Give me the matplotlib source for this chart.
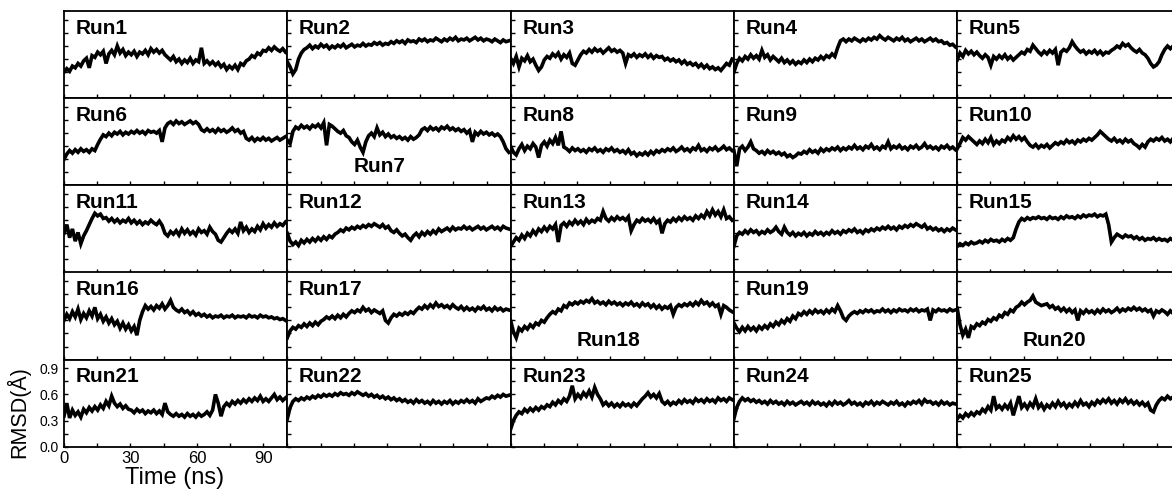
import numpy as np
import matplotlib
matplotlib.use("Agg")
import matplotlib.pyplot as plt
from matplotlib.ticker import MultipleLocator

# RMSD traces (Å), sampled evenly over 0-100 ns
run1 = [0.30,0.34,0.31,0.37,0.35,0.40,0.37,0.43, 0.46,0.35,0.49,0.47,0.53,0.50,0.54,0.40,
        0.51,0.55,0.50,0.60,0.52,0.56,0.49,0.53, 0.50,0.54,0.48,0.53,0.51,0.55,0.50,0.57,
        0.53,0.56,0.52,0.55,0.50,0.47,0.44,0.48, 0.42,0.45,0.40,0.44,0.41,0.46,0.40,0.44,
        0.42,0.58,0.40,0.43,0.39,0.42,0.38,0.41, 0.36,0.39,0.33,0.37,0.34,0.38,0.33,0.40,
        0.38,0.43,0.45,0.49,0.47,0.52,0.50,0.55, 0.54,0.58,0.55,0.59,0.56,0.54,0.57,0.53]
run2 = [0.42,0.36,0.28,0.33,0.45,0.52,0.56,0.58, 0.61,0.57,0.60,0.58,0.62,0.59,0.61,0.57,
        0.60,0.58,0.61,0.59,0.62,0.58,0.60,0.62, 0.59,0.61,0.60,0.63,0.60,0.62,0.61,0.64,
        0.62,0.64,0.61,0.63,0.62,0.65,0.63,0.66, 0.64,0.66,0.63,0.67,0.65,0.66,0.64,0.68,
        0.66,0.68,0.65,0.67,0.66,0.69,0.67,0.65, 0.68,0.66,0.69,0.67,0.70,0.66,0.68,0.67,
        0.69,0.66,0.68,0.70,0.67,0.69,0.66,0.68, 0.67,0.65,0.68,0.66,0.64,0.67,0.65,0.66]
run3 = [0.46,0.40,0.48,0.36,0.46,0.43,0.49,0.42, 0.45,0.38,0.32,0.36,0.44,0.48,0.46,0.51,
        0.48,0.52,0.45,0.50,0.47,0.52,0.40,0.38, 0.44,0.50,0.54,0.52,0.56,0.53,0.57,0.54,
        0.56,0.52,0.55,0.58,0.54,0.56,0.53,0.55, 0.52,0.40,0.50,0.48,0.51,0.47,0.50,0.48,
        0.51,0.47,0.50,0.46,0.49,0.47,0.48,0.44, 0.46,0.43,0.45,0.42,0.44,0.40,0.43,0.39,
        0.41,0.38,0.40,0.36,0.39,0.35,0.38,0.34, 0.36,0.33,0.35,0.32,0.36,0.40,0.38,0.45]
run4 = [0.30,0.40,0.46,0.43,0.48,0.45,0.50,0.46, 0.49,0.45,0.55,0.47,0.50,0.44,0.48,0.45,
        0.42,0.46,0.41,0.44,0.40,0.43,0.39,0.42, 0.40,0.44,0.41,0.45,0.42,0.46,0.44,0.48,
        0.45,0.49,0.47,0.51,0.48,0.58,0.66,0.68, 0.65,0.68,0.66,0.69,0.67,0.65,0.68,0.66,
        0.69,0.67,0.70,0.68,0.72,0.69,0.67,0.70, 0.68,0.66,0.69,0.67,0.70,0.66,0.68,0.65,
        0.67,0.69,0.66,0.68,0.65,0.67,0.69,0.66, 0.68,0.65,0.66,0.63,0.64,0.61,0.62,0.59]
run5 = [0.44,0.52,0.48,0.55,0.51,0.54,0.50,0.53, 0.49,0.46,0.50,0.47,0.38,0.48,0.45,0.49,
        0.46,0.50,0.45,0.48,0.44,0.47,0.50,0.53, 0.51,0.56,0.54,0.61,0.57,0.53,0.50,0.54,
        0.51,0.55,0.52,0.56,0.38,0.53,0.56,0.54, 0.58,0.65,0.60,0.56,0.53,0.55,0.51,0.54,
        0.52,0.55,0.51,0.54,0.50,0.53,0.52,0.55, 0.57,0.60,0.58,0.63,0.60,0.62,0.58,0.55,
        0.53,0.56,0.52,0.50,0.46,0.40,0.36,0.38, 0.42,0.50,0.56,0.60,0.57,0.60,0.58,0.59]
run6 = [0.30,0.36,0.40,0.37,0.41,0.38,0.42,0.39, 0.41,0.38,0.42,0.40,0.47,0.53,0.58,0.56,
        0.60,0.57,0.61,0.59,0.62,0.58,0.61,0.59, 0.62,0.60,0.63,0.60,0.62,0.59,0.63,0.61,
        0.62,0.60,0.63,0.50,0.66,0.71,0.73,0.70, 0.74,0.71,0.73,0.70,0.72,0.74,0.71,0.73,
        0.70,0.64,0.62,0.65,0.62,0.64,0.61,0.65, 0.62,0.64,0.61,0.63,0.66,0.62,0.64,0.60,
        0.62,0.54,0.52,0.55,0.51,0.54,0.52,0.55, 0.52,0.54,0.51,0.53,0.55,0.52,0.54,0.56]
run7 = [0.52,0.48,0.62,0.67,0.65,0.69,0.66,0.68, 0.65,0.69,0.67,0.70,0.66,0.72,0.46,0.70,
        0.68,0.65,0.62,0.60,0.63,0.57,0.55,0.50, 0.47,0.52,0.44,0.38,0.50,0.57,0.60,0.56,
        0.66,0.58,0.61,0.56,0.59,0.55,0.57,0.54, 0.56,0.53,0.55,0.52,0.56,0.53,0.55,0.58,
        0.64,0.66,0.63,0.67,0.64,0.66,0.63,0.67, 0.65,0.68,0.64,0.66,0.63,0.65,0.62,0.64,
        0.60,0.63,0.50,0.61,0.58,0.62,0.59,0.61, 0.58,0.60,0.57,0.59,0.56,0.50,0.42,0.38]
run8 = [0.45,0.38,0.35,0.42,0.47,0.40,0.45,0.42, 0.48,0.44,0.32,0.46,0.50,0.45,0.52,0.48,
        0.55,0.46,0.62,0.44,0.42,0.39,0.43,0.40, 0.42,0.39,0.41,0.38,0.42,0.40,0.43,0.39,
        0.41,0.38,0.42,0.40,0.43,0.39,0.41,0.38, 0.40,0.37,0.41,0.36,0.38,0.34,0.37,0.35,
        0.38,0.35,0.39,0.36,0.40,0.38,0.41,0.39, 0.42,0.40,0.43,0.39,0.41,0.44,0.40,0.42,
        0.39,0.43,0.41,0.46,0.40,0.42,0.39,0.43, 0.41,0.44,0.40,0.42,0.45,0.41,0.43,0.40]
run9 = [0.40,0.22,0.42,0.45,0.40,0.44,0.50,0.42, 0.40,0.37,0.39,0.36,0.40,0.37,0.39,0.36,
        0.38,0.35,0.37,0.33,0.35,0.32,0.34,0.37, 0.36,0.39,0.37,0.41,0.38,0.40,0.37,0.42,
        0.39,0.42,0.40,0.43,0.41,0.44,0.40,0.43, 0.41,0.44,0.42,0.46,0.42,0.44,0.41,0.45,
        0.43,0.47,0.42,0.44,0.41,0.45,0.43,0.50, 0.42,0.45,0.43,0.46,0.42,0.44,0.41,0.45,
        0.43,0.46,0.42,0.44,0.48,0.43,0.45,0.42, 0.44,0.41,0.45,0.43,0.46,0.42,0.44,0.41]
run10 = [0.42,0.48,0.55,0.52,0.56,0.53,0.50,0.47, 0.51,0.48,0.53,0.49,0.55,0.47,0.51,0.48,
         0.52,0.50,0.55,0.52,0.57,0.53,0.56,0.52, 0.55,0.50,0.46,0.44,0.47,0.43,0.46,0.44,
         0.47,0.43,0.46,0.49,0.47,0.50,0.48,0.52, 0.49,0.51,0.48,0.52,0.50,0.53,0.51,0.54,
         0.52,0.55,0.58,0.62,0.59,0.56,0.53,0.51, 0.54,0.50,0.52,0.49,0.53,0.50,0.52,0.48,
         0.46,0.43,0.47,0.44,0.50,0.53,0.51,0.54, 0.52,0.55,0.51,0.53,0.50,0.54,0.52,0.53]
run11 = [0.45,0.55,0.40,0.50,0.36,0.46,0.33,0.42, 0.48,0.55,0.62,0.68,0.65,0.67,0.62,0.63,
         0.59,0.62,0.58,0.61,0.57,0.60,0.58,0.62, 0.57,0.60,0.56,0.59,0.55,0.58,0.56,0.60,
         0.57,0.55,0.59,0.54,0.45,0.42,0.47,0.44, 0.48,0.43,0.50,0.45,0.49,0.44,0.47,0.43,
         0.50,0.46,0.48,0.44,0.52,0.47,0.44,0.37, 0.35,0.40,0.45,0.49,0.46,0.50,0.45,0.58,
         0.48,0.52,0.46,0.50,0.47,0.53,0.49,0.56, 0.51,0.55,0.52,0.57,0.53,0.56,0.54,0.58]
run12 = [0.45,0.36,0.32,0.35,0.31,0.37,0.34,0.38, 0.35,0.39,0.36,0.40,0.37,0.41,0.38,0.42,
         0.40,0.44,0.46,0.49,0.47,0.51,0.49,0.52, 0.50,0.53,0.51,0.54,0.52,0.55,0.53,0.56,
         0.54,0.52,0.55,0.51,0.53,0.48,0.46,0.49, 0.45,0.42,0.44,0.40,0.37,0.42,0.45,0.41,
         0.46,0.43,0.47,0.44,0.48,0.45,0.50,0.47, 0.49,0.51,0.48,0.52,0.49,0.51,0.50,0.53,
         0.50,0.52,0.49,0.51,0.53,0.50,0.52,0.49, 0.51,0.53,0.50,0.52,0.49,0.53,0.51,0.50]
run13 = [0.30,0.35,0.40,0.37,0.43,0.39,0.45,0.42, 0.48,0.44,0.50,0.47,0.52,0.48,0.53,0.50,
         0.55,0.35,0.54,0.57,0.53,0.58,0.55,0.60, 0.56,0.59,0.55,0.61,0.57,0.60,0.58,0.62,
         0.60,0.70,0.62,0.59,0.63,0.60,0.64,0.61, 0.63,0.60,0.64,0.48,0.55,0.60,0.58,0.62,
         0.59,0.61,0.58,0.62,0.57,0.60,0.45,0.56, 0.60,0.58,0.62,0.59,0.63,0.60,0.64,0.61,
         0.63,0.60,0.65,0.62,0.66,0.63,0.70,0.65, 0.72,0.66,0.70,0.64,0.72,0.62,0.64,0.60]
run14 = [0.30,0.42,0.46,0.44,0.48,0.45,0.49,0.46, 0.48,0.44,0.47,0.45,0.49,0.46,0.48,0.52,
         0.47,0.44,0.52,0.46,0.43,0.46,0.42,0.45, 0.43,0.46,0.42,0.45,0.43,0.47,0.44,0.46,
         0.43,0.46,0.44,0.48,0.45,0.47,0.44,0.48, 0.46,0.49,0.47,0.50,0.46,0.48,0.45,0.49,
         0.47,0.50,0.48,0.51,0.49,0.52,0.50,0.53, 0.50,0.52,0.49,0.53,0.51,0.54,0.52,0.55,
         0.53,0.56,0.54,0.52,0.55,0.50,0.52,0.49, 0.51,0.48,0.50,0.47,0.50,0.48,0.51,0.49]
run15 = [0.30,0.33,0.31,0.34,0.32,0.35,0.33,0.34, 0.36,0.34,0.37,0.35,0.38,0.36,0.37,0.35,
         0.38,0.36,0.39,0.37,0.40,0.50,0.58,0.62, 0.60,0.63,0.61,0.63,0.62,0.64,0.62,0.63,
         0.61,0.64,0.62,0.63,0.61,0.64,0.62,0.65, 0.63,0.64,0.62,0.65,0.63,0.66,0.64,0.66,
         0.65,0.67,0.64,0.66,0.65,0.67,0.55,0.35, 0.40,0.44,0.42,0.40,0.43,0.41,0.42,0.39,
         0.41,0.38,0.40,0.37,0.39,0.38,0.40,0.37, 0.39,0.37,0.38,0.36,0.39,0.37,0.38,0.36]
run16 = [0.45,0.52,0.47,0.55,0.49,0.58,0.46,0.53, 0.48,0.56,0.50,0.60,0.47,0.52,0.44,0.49,
         0.42,0.47,0.40,0.44,0.36,0.42,0.35,0.40, 0.33,0.38,0.28,0.45,0.55,0.62,0.58,0.61,
         0.57,0.62,0.59,0.64,0.58,0.62,0.68,0.60, 0.57,0.55,0.58,0.54,0.56,0.52,0.55,0.51,
         0.53,0.50,0.52,0.49,0.51,0.48,0.50,0.49, 0.51,0.48,0.50,0.49,0.51,0.48,0.50,0.49,
         0.50,0.48,0.51,0.49,0.50,0.48,0.51,0.49, 0.50,0.48,0.49,0.47,0.48,0.46,0.47,0.45]
run17 = [0.25,0.33,0.37,0.35,0.39,0.37,0.41,0.38, 0.42,0.39,0.43,0.40,0.44,0.46,0.49,0.47,
         0.50,0.47,0.51,0.48,0.52,0.49,0.53,0.56, 0.54,0.57,0.55,0.60,0.56,0.58,0.54,0.57,
         0.55,0.53,0.56,0.45,0.42,0.48,0.52,0.50, 0.53,0.51,0.54,0.52,0.55,0.53,0.57,0.60,
         0.58,0.62,0.59,0.63,0.60,0.65,0.61,0.63, 0.60,0.62,0.59,0.63,0.60,0.58,0.61,0.57,
         0.60,0.57,0.59,0.56,0.60,0.58,0.61,0.57, 0.59,0.56,0.60,0.57,0.59,0.56,0.58,0.57]
run18 = [0.45,0.32,0.25,0.36,0.33,0.38,0.35,0.40, 0.37,0.42,0.40,0.45,0.43,0.48,0.52,0.55,
         0.53,0.58,0.56,0.62,0.60,0.65,0.63,0.66, 0.64,0.67,0.65,0.68,0.66,0.70,0.65,0.67,
         0.64,0.66,0.63,0.67,0.64,0.66,0.63,0.65, 0.62,0.65,0.63,0.66,0.62,0.64,0.61,0.65,
         0.62,0.64,0.60,0.63,0.59,0.62,0.58,0.61, 0.59,0.62,0.52,0.60,0.63,0.61,0.64,0.62,
         0.65,0.62,0.66,0.63,0.68,0.64,0.66,0.62, 0.65,0.61,0.63,0.52,0.62,0.60,0.57,0.55]
run19 = [0.42,0.36,0.32,0.37,0.33,0.38,0.34,0.37, 0.33,0.38,0.35,0.39,0.36,0.41,0.38,0.43,
         0.40,0.45,0.42,0.47,0.44,0.50,0.47,0.53, 0.51,0.55,0.52,0.56,0.53,0.57,0.54,0.56,
         0.53,0.57,0.54,0.58,0.55,0.62,0.56,0.48, 0.45,0.50,0.53,0.55,0.53,0.56,0.54,0.57,
         0.55,0.57,0.54,0.56,0.55,0.58,0.55,0.57, 0.54,0.57,0.55,0.58,0.56,0.57,0.55,0.58,
         0.56,0.58,0.55,0.57,0.56,0.58,0.45,0.57, 0.55,0.58,0.56,0.57,0.55,0.58,0.56,0.57]
run20 = [0.59,0.40,0.28,0.35,0.25,0.38,0.36,0.41, 0.39,0.43,0.41,0.46,0.44,0.48,0.46,0.51,
         0.49,0.54,0.52,0.57,0.55,0.60,0.62,0.66, 0.63,0.66,0.68,0.73,0.66,0.64,0.62,0.63,
         0.64,0.60,0.62,0.58,0.60,0.56,0.59,0.55, 0.58,0.54,0.57,0.45,0.56,0.53,0.57,0.54,
         0.56,0.53,0.57,0.54,0.58,0.55,0.57,0.54, 0.56,0.59,0.55,0.58,0.56,0.59,0.57,0.60,
         0.57,0.59,0.56,0.58,0.55,0.57,0.50,0.56, 0.54,0.57,0.55,0.52,0.56,0.53,0.55,0.52]
run21 = [0.35,0.50,0.33,0.42,0.36,0.40,0.34,0.43, 0.39,0.45,0.41,0.46,0.42,0.48,0.44,0.52,
         0.47,0.58,0.50,0.46,0.49,0.44,0.47,0.43, 0.42,0.39,0.43,0.40,0.42,0.38,0.41,0.39,
         0.42,0.38,0.41,0.37,0.50,0.40,0.37,0.35, 0.38,0.35,0.37,0.34,0.38,0.35,0.37,0.34,
         0.38,0.35,0.37,0.40,0.36,0.42,0.60,0.50, 0.35,0.46,0.50,0.47,0.52,0.49,0.53,0.50,
         0.54,0.51,0.55,0.52,0.56,0.53,0.58,0.52, 0.55,0.52,0.56,0.60,0.54,0.57,0.53,0.56]
run22 = [0.32,0.45,0.52,0.55,0.53,0.56,0.54,0.57, 0.55,0.58,0.56,0.59,0.57,0.60,0.58,0.60,
         0.58,0.61,0.59,0.62,0.60,0.61,0.59,0.62, 0.60,0.63,0.61,0.59,0.61,0.58,0.60,0.57,
         0.59,0.56,0.58,0.55,0.57,0.54,0.56,0.53, 0.55,0.52,0.54,0.51,0.53,0.50,0.54,0.51,
         0.53,0.50,0.52,0.49,0.53,0.50,0.52,0.49, 0.52,0.50,0.53,0.49,0.52,0.50,0.53,0.51,
         0.54,0.51,0.53,0.50,0.55,0.52,0.54,0.56, 0.55,0.58,0.56,0.59,0.57,0.60,0.58,0.59]
run23 = [0.20,0.30,0.36,0.40,0.38,0.43,0.40,0.44, 0.41,0.45,0.42,0.46,0.44,0.48,0.46,0.51,
         0.48,0.53,0.50,0.55,0.52,0.58,0.70,0.55, 0.60,0.56,0.62,0.58,0.64,0.57,0.68,0.60,
         0.55,0.48,0.51,0.47,0.50,0.46,0.49,0.46, 0.50,0.47,0.49,0.46,0.50,0.47,0.51,0.55,
         0.58,0.62,0.57,0.60,0.56,0.61,0.52,0.49, 0.52,0.48,0.51,0.49,0.53,0.50,0.54,0.51,
         0.53,0.50,0.55,0.52,0.54,0.51,0.55,0.52, 0.54,0.51,0.56,0.53,0.55,0.52,0.56,0.54]
run24 = [0.32,0.45,0.52,0.56,0.53,0.55,0.52,0.54, 0.51,0.53,0.50,0.52,0.49,0.53,0.50,0.52,
         0.49,0.51,0.48,0.52,0.49,0.51,0.48,0.50, 0.52,0.49,0.51,0.48,0.52,0.49,0.51,0.48,
         0.50,0.47,0.51,0.48,0.52,0.49,0.51,0.48, 0.50,0.53,0.49,0.51,0.48,0.50,0.47,0.51,
         0.49,0.52,0.48,0.51,0.49,0.52,0.50,0.48, 0.51,0.49,0.52,0.48,0.50,0.47,0.51,0.49,
         0.52,0.50,0.53,0.49,0.54,0.51,0.52,0.49, 0.51,0.48,0.52,0.49,0.51,0.48,0.50,0.49]
run25 = [0.32,0.36,0.33,0.38,0.35,0.39,0.36,0.40, 0.38,0.43,0.40,0.46,0.42,0.58,0.44,0.47,
         0.43,0.48,0.44,0.50,0.36,0.47,0.58,0.45, 0.49,0.44,0.50,0.46,0.55,0.45,0.49,0.43,
         0.48,0.45,0.50,0.46,0.52,0.47,0.50,0.45, 0.49,0.46,0.51,0.47,0.53,0.48,0.50,0.46,
         0.51,0.48,0.53,0.50,0.54,0.51,0.55,0.50, 0.53,0.49,0.54,0.51,0.55,0.50,0.53,0.49,
         0.52,0.48,0.51,0.47,0.50,0.42,0.40,0.48, 0.53,0.56,0.54,0.58,0.55,0.57,0.54,0.56]

runs = [run1, run2, run3, run4, run5, run6, run7, run8, run9, run10,
        run11, run12, run13, run14, run15, run16, run17, run18, run19, run20,
        run21, run22, run23, run24, run25]
run_labels = ["Run%d" % i for i in range(1, 26)]
bottom_labelled = ["Run7", "Run18", "Run20"]
x_ticks = [0, 30, 60, 90]
x_tick_labels = ["0", "30", "60", "90"]
y_ticks = [0.0, 0.3, 0.6, 0.9]
y_tick_labels = ["0.0", "0.3", "0.6", "0.9"]

plt.rcParams['font.family'] = ['Liberation Sans', 'DejaVu Sans']

W, H = 1172, 490
fig = plt.figure(figsize=(W / 100, H / 100), dpi=100)
left0, colw, top0, rowh = 64.0, 223.3, 11.2, 87.1

for k, (vals, lab) in enumerate(zip(runs, run_labels)):
    r, c = divmod(k, 5)
    x0 = left0 + c * colw
    y0 = top0 + r * rowh
    ax = fig.add_axes([x0 / W, 1 - (y0 + rowh) / H, colw / W, rowh / H])
    t = np.linspace(0, 100, len(vals))
    ax.plot(t, vals, color='black', lw=2.6, solid_joinstyle='miter')
    ax.set_xlim(0, 100.8)
    ax.set_ylim(0, 1.0)
    ax.set_xticks(x_ticks)
    ax.xaxis.set_minor_locator(MultipleLocator(15))
    ax.set_yticks(y_ticks)
    ax.yaxis.set_minor_locator(MultipleLocator(0.15))
    ax.tick_params(which='both', direction='in', length=3, width=1,
                   top=False, right=False, colors='black')
    for s in ax.spines.values():
        s.set_linewidth(1.3)
    if k == 20:
        ax.set_xticklabels(x_tick_labels, fontsize=12)
        ax.set_yticklabels(y_tick_labels, fontsize=10)
        ax.tick_params(axis='x', pad=3)
        ax.tick_params(axis='y', pad=4)
    else:
        ax.tick_params(labelbottom=False, labelleft=False)
    if lab in bottom_labelled:
        ax.text(0.295, 0.22, lab, transform=ax.transAxes, fontsize=15,
                fontweight='bold', ha='left', va='center')
    else:
        ax.text(0.052, 0.915, lab, transform=ax.transAxes, fontsize=15,
                fontweight='bold', ha='left', va='top')

fig.text(18 / W, 1 - 412 / H, "RMSD(Å)", rotation=90, fontsize=15.5,
         ha='center', va='center')
fig.text(175 / W, 1 - 478 / H, "Time (ns)", fontsize=17,
         ha='center', va='center')

fig.savefig("out.png", dpi=100)
